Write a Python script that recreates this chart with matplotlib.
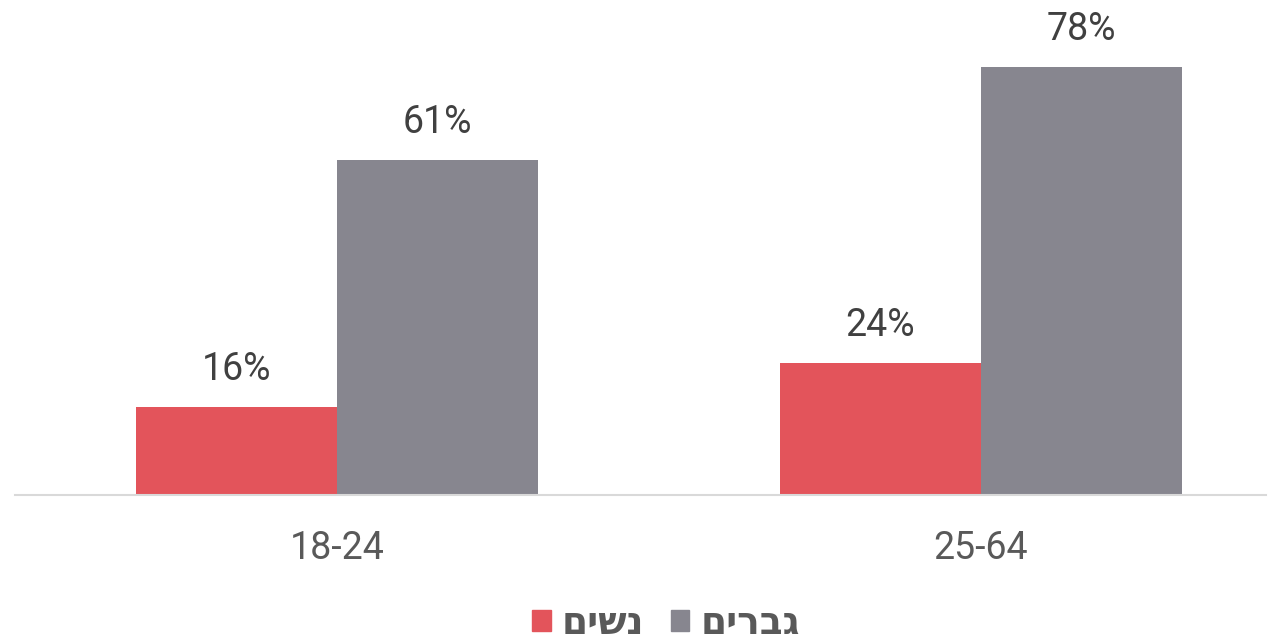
import matplotlib.pyplot as plt
import matplotlib.patches as mpatches
import numpy as np

categories = ['18-24', '25-64']
women = [16, 24]
men = [61, 78]
legend_labels = ['נשים', 'גברים']  # women, men

red = '#E3545B'
gray = '#87868F'

fig = plt.figure(figsize=(12.81, 6.43), dpi=100)
ax = fig.add_axes([15 / 1281, 148 / 643, 1251 / 1281, 495 / 643])

x = np.arange(len(categories))
w = 0.312
b1 = ax.bar(x - w / 2, women, w, color=red)
b2 = ax.bar(x + w / 2, men, w, color=gray)

for bars in (b1, b2):
    for r in bars:
        ax.annotate(f'{r.get_height():.0f}%', (r.get_x() + r.get_width() / 2, r.get_height()),
                    xytext=(0, 19), textcoords='offset pixels', ha='center', va='bottom',
                    fontsize=27, family='Roboto', color='#404040')

ax.set_xlim(-0.5, 1.4425)
ax.set_ylim(0, 90.2)
ax.set_xticks(x)
ax.set_xticklabels(categories, family='Roboto', fontsize=27, color='#595959')
ax.tick_params(axis='x', length=0, pad=25)
ax.set_yticks([])
for s in ['top', 'right', 'left']:
    ax.spines[s].set_visible(False)
ax.spines['bottom'].set_color('#D9D9D9')
ax.spines['bottom'].set_linewidth(1.5)

# matplotlib has no bidi support, so reverse the Hebrew strings
handles = [mpatches.Patch(color=red), mpatches.Patch(color=gray)]
fig.legend(handles, [s[::-1] for s in legend_labels], loc='center',
           bbox_to_anchor=(666 / 1281, 1 - 624 / 643), ncol=2, frameon=False,
           handlelength=0.5, handleheight=0.5, handletextpad=0.3, columnspacing=0.7,
           prop={'family': ['DejaVu Sans'], 'weight': 'bold', 'size': 27},
           labelcolor='#595959')

fig.savefig('out.png', dpi=100)
